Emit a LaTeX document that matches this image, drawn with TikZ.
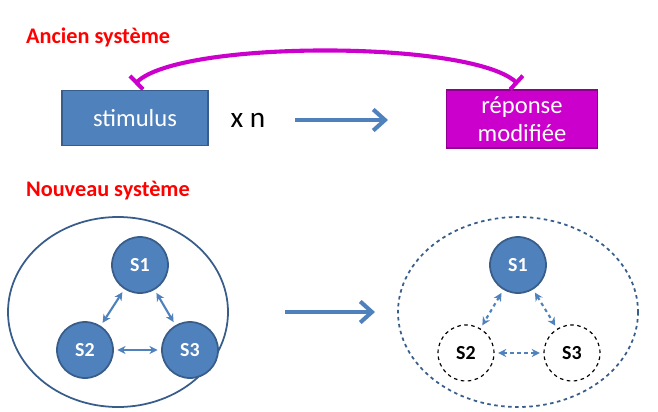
\documentclass[tikz,border=0pt]{standalone}
\usepackage{fontspec}
\setmainfont{Carlito}
\usetikzlibrary{arrows.meta}
\definecolor{bl}{RGB}{79,129,189}
\definecolor{bld}{RGB}{56,93,138}
\definecolor{mag}{RGB}{204,0,204}
\definecolor{rd}{RGB}{255,0,0}
\begin{document}
\begin{tikzpicture}[x=0.03cm,y=-0.03cm,
  title/.style={text=rd,font=\bfseries\fontsize{19}{22}\selectfont,anchor=west},
  box/.style={draw=bld,line width=1.5pt,text=white,font=\fontsize{21}{24}\selectfont,align=center,inner sep=0pt},
  sn/.style={circle,minimum size=56*0.03cm,inner sep=0pt,font=\bfseries\fontsize{17}{19}\selectfont},
  sf/.style={sn,fill=bl,draw=bld,line width=1.5pt,text=white},
  sd/.style={sn,draw=black,dashed,line width=1pt,fill=white,text=black},
  link/.style={{Stealth[length=7pt,width=7pt]}-{Stealth[length=7pt,width=7pt]},bl,line width=1.8pt,shorten <=3pt,shorten >=3pt},
  big/.style={-{Straight Barb[length=10pt,width=18pt]},bl,line width=3.5pt}]
\useasboundingbox (0,0) rectangle (658,412);
\node[title] (t1) at (22,37) {Ancien système};
\node[box,fill=bl,minimum width=146*0.03cm,minimum height=55*0.03cm] (st) at (135,118) {stimulus};
\node[font=\fontsize{25}{28}\selectfont] (xn) at (248,120) {x n};
\node[box,fill=mag,draw=mag!70!black,minimum width=151*0.03cm,minimum height=58*0.03cm] (rep) at (522,119) {réponse\\modifiée};
\coordinate (a1) at (295,120); \coordinate (a2) at (388,120);
\draw[big] (a1) -- (a2);
\draw[mag,line width=3.5pt,{Bar[width=16pt]}-{Bar[width=16pt]}] (135,84) .. controls (180,40) and (470,40) .. (518,84);
\node[title] (t2) at (22,191) {Nouveau système};
\draw[bld,line width=1.5pt] (118,312) ellipse [x radius=110,y radius=95];
\node[sf] (s1) at (140,265) {S1};
\node[sf] (s2) at (85,350) {S2};
\node[sf] (s3) at (190,350) {S3};
\draw[link] (s1) -- (s2); \draw[link] (s1) -- (s3); \draw[link] (s2) -- (s3);
\coordinate (b1) at (285,312); \coordinate (b2) at (375,312);
\draw[big] (b1) -- (b2);
\draw[bld,line width=1.5pt,dashed] (518,312) ellipse [x radius=120,y radius=95];
\node[sf] (r1) at (518,265) {S1};
\node[sd] (r2) at (466,353) {S2};
\node[sd] (r3) at (572,353) {S3};
\draw[link,dashed] (r1) -- (r2); \draw[link,dashed] (r1) -- (r3); \draw[link,dashed] (r2) -- (r3);
\end{tikzpicture}
\end{document}
